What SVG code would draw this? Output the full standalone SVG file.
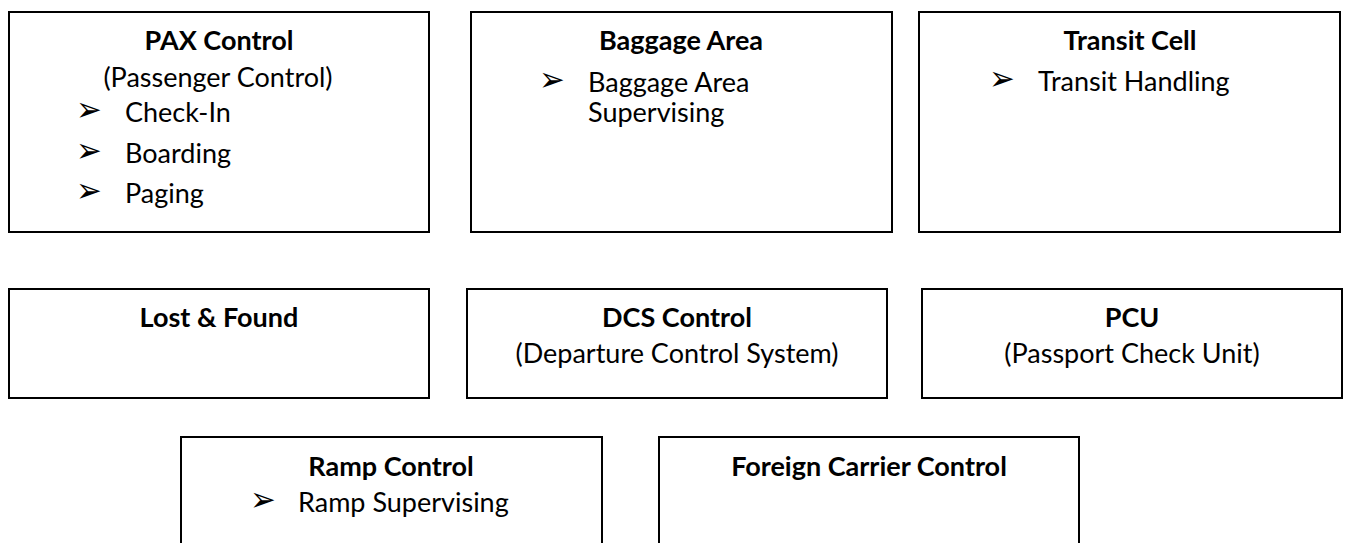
<svg xmlns="http://www.w3.org/2000/svg" width="1346" height="543" viewBox="0 0 1346 543">
<style>
.box{fill:#fff;stroke:#000;stroke-width:2}
.t{font-family:Lato,"Open Sans","Liberation Sans",sans-serif;font-size:27px;fill:#000}
.b{font-weight:bold}
.m{text-anchor:middle}
.bl{font-family:"DejaVu Sans",sans-serif;font-size:22px;fill:#000}
</style>
<rect width="1346" height="543" fill="#fff"/>
<g id="connectors"/>
<g id="pax">
<rect class="box" x="9" y="12" width="420" height="220"/>
<text class="t b m" x="219" y="50">PAX Control</text>
<text class="t m" x="218" y="87">(Passenger Control)</text>
<text class="bl" transform="translate(76,121) scale(1.4,1.55)">➢</text>
<text class="t" x="125" y="122">Check-In</text>
<text class="bl" transform="translate(76,161.5) scale(1.4,1.55)">➢</text>
<text class="t" x="125" y="162.5">Boarding</text>
<text class="bl" transform="translate(76,202) scale(1.4,1.55)">➢</text>
<text class="t" x="125" y="202.5">Paging</text>
</g>
<g id="baggage">
<rect class="box" x="471" y="12" width="421" height="220"/>
<text class="t b m" x="681" y="50">Baggage Area</text>
<text class="bl" transform="translate(539,91) scale(1.4,1.55)">➢</text>
<text class="t" x="588" y="92">Baggage Area</text>
<text class="t" x="588" y="122">Supervising</text>
</g>
<g id="transit">
<rect class="box" x="919" y="12" width="421" height="220"/>
<text class="t b m" x="1130" y="50">Transit Cell</text>
<text class="bl" transform="translate(989,90) scale(1.4,1.55)">➢</text>
<text class="t" x="1038" y="91">Transit Handling</text>
</g>
<g id="lostfound">
<rect class="box" x="9" y="289" width="420" height="109"/>
<text class="t b m" x="219" y="327">Lost &amp; Found</text>
</g>
<g id="dcs">
<rect class="box" x="467" y="289" width="420" height="109"/>
<text class="t b m" x="677" y="327">DCS Control</text>
<text class="t m" x="677" y="363">(Departure Control System)</text>
</g>
<g id="pcu">
<rect class="box" x="922" y="289" width="420" height="109"/>
<text class="t b m" x="1132" y="327">PCU</text>
<text class="t m" x="1132" y="363">(Passport Check Unit)</text>
</g>
<g id="ramp">
<rect class="box" x="181" y="437" width="421" height="130"/>
<text class="t b m" x="391" y="476">Ramp Control</text>
<text class="bl" transform="translate(250,511) scale(1.4,1.55)">➢</text>
<text class="t" x="298" y="512">Ramp Supervising</text>
</g>
<g id="foreign">
<rect class="box" x="659" y="437" width="420" height="130"/>
<text class="t b m" x="869" y="476">Foreign Carrier Control</text>
</g>
</svg>
